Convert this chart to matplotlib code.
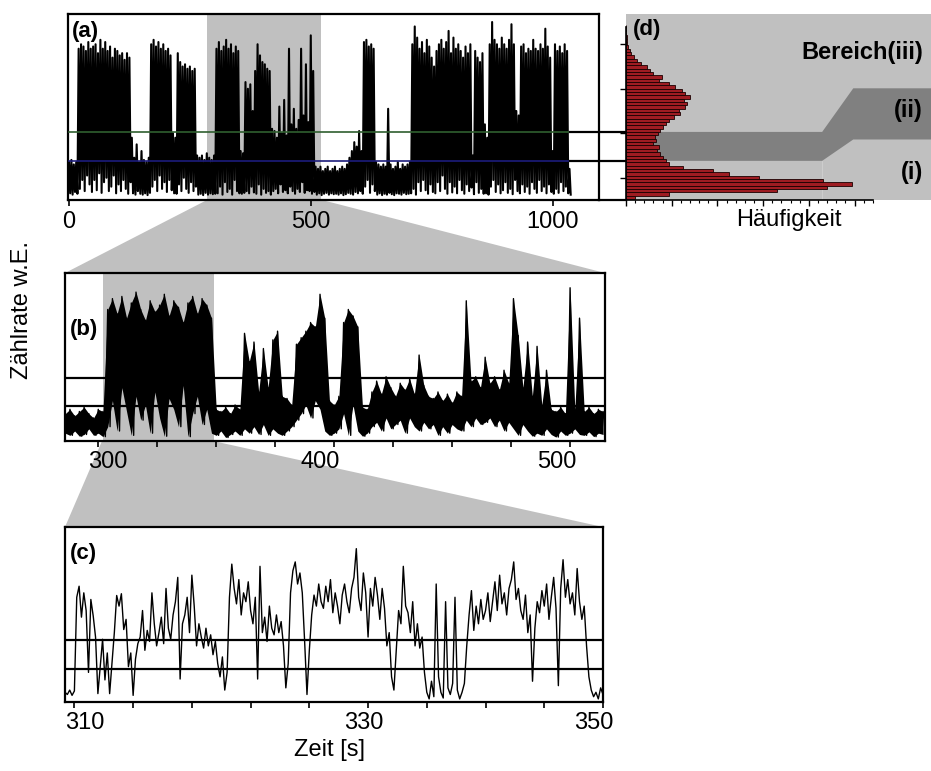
import numpy as np
import matplotlib
matplotlib.use('Agg')
import matplotlib.pyplot as plt
from matplotlib.patches import Polygon

plt.rcParams['font.family'] = ['Liberation Sans', 'DejaVu Sans']

# threshold levels (count rate, arb. units)
LOW_LEVEL = 3.8
HIGH_LEVEL = 10.3

# (a) full trace, upper / lower envelope every 5 s
A_T = np.arange(0, 1040, 5)
A_HI = [3.5, 4.0, 3.0, 3.5, 29.0, 30.0, 29.5, 28.5, 30.5, 29.0,
        29.5, 30.0, 28.0, 31.0, 29.0, 30.5, 28.5, 29.5, 27.0, 29.0,
        28.5, 27.5, 28.0, 26.5, 28.0, 27.0, 9.0, 4.5, 7.5, 3.5,
        6.0, 4.0, 3.5, 4.5, 30.0, 31.0, 29.5, 30.5, 29.0, 30.0,
        28.5, 29.0, 27.5, 10.0, 9.0, 28.0, 26.0, 25.0, 25.5, 24.5,
        25.0, 24.0, 24.5, 5.0, 4.5, 5.0, 4.0, 5.5, 4.5, 4.0,
        5.0, 29.0, 30.5, 28.5, 29.5, 31.0, 29.0, 30.0, 28.0, 29.5,
        28.5, 6.0, 5.5, 21.5, 20.0, 21.0, 15.0, 24.0, 30.0, 27.5,
        26.0, 25.5, 24.5, 24.0, 11.0, 10.5, 9.0, 16.0, 10.0, 17.5,
        9.5, 29.0, 12.0, 15.5, 11.0, 13.0, 29.0, 14.0, 25.5, 12.5,
        32.0, 24.0, 2.5, 2.0, 2.5, 1.5, 2.0, 2.5, 1.5, 2.0,
        2.5, 1.5, 2.0, 2.5, 2.0, 3.0, 4.5, 6.0, 8.0, 7.0,
        10.5, 6.0, 30.5, 31.0, 29.5, 30.0, 29.0, 3.5, 3.0, 2.5,
        3.0, 2.5, 15.5, 3.0, 2.0, 2.5, 3.5, 2.0, 3.0, 2.5,
        3.0, 3.5, 30.0, 34.0, 31.5, 29.0, 30.5, 28.0, 31.0, 29.5,
        27.0, 25.0, 28.5, 30.0, 31.0, 29.0, 30.5, 33.0, 28.0, 31.5,
        29.0, 30.0, 28.5, 27.0, 29.5, 28.0, 30.0, 5.0, 28.5, 27.0,
        26.0, 28.0, 12.0, 9.0, 30.0, 35.0, 31.0, 30.0, 29.0, 31.5,
        30.0, 29.0, 31.0, 34.5, 30.0, 15.0, 14.0, 29.5, 30.0, 28.0,
        29.0, 28.5, 31.0, 29.0, 28.5, 30.0, 29.0, 33.5, 29.5, 27.0,
        6.0, 30.0, 28.5, 29.5, 28.0, 30.0, 28.5, 2.0]
A_LO = [-3.5, -3.8, -3.2, -3.6, -2.5, -0.5, -3.0, 0.5, -1.5, -3.2,
        -0.5, -2.8, 1.0, -3.4, -1.0, 0.0, -3.0, -2.0, 0.5, -3.5,
        -1.5, -3.0, -0.5, -2.5, -3.6, -1.0, -3.5, -3.8, -3.0, -3.6,
        -3.8, -3.5, -3.9, -3.4, -2.0, -0.5, -3.0, 0.5, -2.5, -1.0,
        -3.2, -0.5, -2.8, -3.5, -3.6, -1.5, -3.0, 0.0, -2.5, -3.4,
        -1.0, -3.0, -2.0, -3.8, -3.6, -3.9, -3.4, -3.8, -3.5, -3.7,
        -3.6, -3.5, -2.0, -3.8, -1.0, -3.2, -2.5, -3.8, -0.5, -3.0,
        -3.5, -3.6, -3.4, -3.0, -3.5, -2.0, -3.3, -3.6, -1.5, -3.8,
        -2.5, -3.4, -3.0, -3.8, -3.0, -2.5, -3.5, -1.5, -3.2, -2.8,
        -3.5, -2.0, -3.0, -3.6, -2.5, -3.2, -1.0, -3.4, -2.8, -3.0,
        -3.6, -3.2, -3.8, -3.5, -3.9, -3.6, -3.4, -3.8, -3.5, -3.7,
        -3.6, -3.8, -3.5, -3.9, -3.7, -3.4, -3.6, -3.8, -3.2, -3.5,
        -3.0, -3.6, -2.0, -0.5, -3.4, -1.5, -3.0, -3.8, -3.5, -3.9,
        -3.6, -3.8, -3.4, -3.7, -3.9, -3.5, -3.6, -3.8, -3.4, -3.7,
        -3.6, -3.5, -2.5, -3.8, -1.0, -3.0, -0.5, -2.8, -3.6, -1.5,
        -3.2, -3.5, -1.0, -3.0, 0.5, -2.5, -3.6, -1.0, -3.3, -2.0,
        -3.5, -0.5, -2.8, -3.6, -1.5, -3.0, -2.2, -3.7, -1.0, -3.4,
        -2.5, -3.6, -3.5, -3.8, -2.0, -0.5, -3.2, -1.5, -3.5, -2.8,
        -1.0, -3.4, -2.5, -3.7, -0.5, -3.0, -3.5, -1.5, -3.2, -2.0,
        -3.6, -1.0, -2.5, -3.4, -0.5, -3.0, -2.0, -3.5, -1.5, -3.2,
        -3.6, -2.5, -3.4, -1.0, -3.0, -2.0, -3.5, -3.8]

# (b) 286-515 s, upper / lower envelope every 2 s
B_T = np.arange(286, 516, 2)
B_HI = [2.0, 3.0, 1.5, 2.5, 3.5, 2.0, 1.0, 3.0, 2.5, 26.0,
        28.5, 25.0, 29.0, 24.0, 27.5, 30.0, 26.0, 23.5, 28.0, 25.5,
        27.0, 29.5, 24.5, 28.0, 26.5, 23.0, 27.5, 29.0, 25.0, 28.5,
        27.0, 24.0, 3.0, 2.5, 3.5, 2.0, 4.0, 3.0, 20.5, 14.0,
        18.5, 7.0, 17.0, 8.0, 19.0, 21.0, 6.0, 5.5, 4.0, 18.0,
        19.5, 21.0, 23.0, 22.0, 29.5, 24.0, 5.0, 4.0, 6.0, 23.0,
        26.0, 24.5, 22.0, 3.5, 3.0, 7.0, 9.5, 6.5, 10.5, 8.0,
        6.0, 9.0, 7.5, 10.0, 6.5, 15.5, 8.5, 6.0, 5.5, 7.0,
        5.0, 6.5, 4.5, 7.0, 6.0, 28.0, 9.5, 10.5, 8.0, 15.0,
        9.0, 10.5, 7.5, 12.0, 9.0, 28.5, 20.0, 8.0, 18.5, 6.0,
        17.5, 4.0, 12.0, 3.0, 2.5, 3.5, 2.0, 31.0, 3.0, 24.0,
        2.5, 3.5, 2.0, 3.0, 2.5]
B_LO = [-2.5, -3.0, -2.0, -3.2, -2.8, -1.5, -3.0, -2.5, -3.3, -1.0,
        5.0, -2.0, 8.0, 2.5, -3.0, 6.0, 0.5, 4.0, -2.5, 7.0,
        1.0, -3.2, 5.5, 3.0, -1.0, 8.5, -3.3, 2.0, 6.0, -0.5,
        3.0, -2.5, -3.0, -2.0, -3.5, -2.8, -2.0, -3.0, -1.5, -2.5,
        -1.0, -2.8, -0.5, -3.0, -1.5, -2.5, -3.0, -2.0, -1.0, 0.5,
        2.0, 4.0, 1.0, 5.0, 3.0, -2.0, -3.0, -2.5, -1.5, 2.0,
        -3.0, 4.0, -2.0, -3.2, -2.5, -1.0, 0.0, -2.0, 1.0, -1.5,
        -0.5, 0.5, -2.5, 1.0, -1.0, -2.0, 0.0, -1.5, -0.5, -3.0,
        -1.0, -2.5, -0.5, -1.5, -2.0, 0.5, -1.0, 1.0, -0.5, 0.0,
        1.0, -1.0, 0.5, -2.0, 0.0, -1.5, -3.0, -0.5, -2.0, -3.2,
        -2.5, -3.0, -1.5, -2.8, -3.4, -2.0, -3.0, -2.5, -1.5, -2.8,
        -3.0, -2.2, -3.3, -2.5, -2.8]

# (c) 304.2-350 s, every 0.2 s
C_T = np.round(304.2 + 0.2 * np.arange(230), 1)
C_Y = [-1.5, -2.0, -1.0, -2.2, -1.2, 20.0, 22.5, 15.5, 21.0, 17.0,
       3.0, 19.5, 15.8, 11.0, -1.8, 4.3, 10.5, 1.3, 7.4, -1.8,
       5.0, 12.0, 20.4, 18.0, 20.8, 12.7, 15.0, 4.3, 7.4, -2.2,
       6.0, 9.5, 11.0, 17.0, 8.0, 12.5, 10.0, 21.0, 14.0, 9.0,
       12.0, 15.5, 9.5, 22.0, 13.0, 10.5, 16.0, 19.0, 24.5, 1.5,
       14.0, 16.0, 20.0, 12.0, 25.0, 18.0, 9.0, 14.0, 11.0, 8.5,
       13.0, 9.0, 11.5, 7.0, 10.0, 5.0, 2.0, 6.5, -1.0, 3.0,
       20.0, 27.5, 22.0, 18.5, 24.0, 16.0, 21.0, 19.0, 23.5, 17.0,
       14.0, 20.0, 1.5, 27.0, 12.0, 15.5, 10.0, 18.0, 13.0, 11.5,
       16.0, 12.0, 14.5, 9.0, -0.5, 5.0, 21.0, 26.0, 28.0, 23.0,
       25.5, 21.0, 10.0, -2.0, 8.0, 16.0, 20.5, 18.0, 23.0, 19.0,
       17.5, 22.5, 19.0, 24.0, 16.5, 21.0, 18.0, 14.0, 20.5, 23.0,
       19.0, 16.5, 22.0, 24.5, 31.0, 20.0, 17.0, 25.5, 21.0, 11.0,
       22.0, 18.0, 24.5, 20.5, 15.0, 22.0, 17.5, 9.0, 12.0, 2.0,
       -1.0, 8.0, 17.0, 14.0, 27.0, 18.0, 16.5, 12.0, 19.0, 9.0,
       14.0, 8.5, 11.0, 3.0, -1.5, -3.0, 1.0, -2.5, 23.0, 2.0,
       -1.5, -2.8, 19.0, -0.5, -2.0, 0.5, 20.0, -1.0, -3.0, -1.5,
       0.5, 9.0, 16.0, 21.5, 12.5, 18.0, 14.0, 19.5, 15.0, 17.0,
       21.0, 14.5, 19.0, 23.5, 17.0, 25.0, 18.5, 21.0, 16.0, 22.0,
       24.0, 28.0, 19.5, 22.0, 17.0, 15.0, 20.5, 12.0, 16.0, 1.0,
       13.0, 19.0, 16.5, 21.5, 18.0, 23.0, 15.0, 20.0, 24.5, 17.5,
       0.0, 22.0, 28.5, 20.0, 24.0, 18.5, 21.0, 16.0, 26.5, 19.0,
       15.0, 18.0, 9.0, 2.0, -1.0, -2.5, -1.5, -3.0, -0.5, -2.0]

# (d) histogram of count rate, bin centres and counts
D_U = np.arange(52) * 0.75 - 4.375
D_N = [20, 95, 330, 440, 495, 430, 290, 225, 190, 125,
       95, 88, 82, 74, 68, 72, 60, 66, 64, 70,
       74, 80, 88, 95, 104, 118, 116, 130, 133, 126,
       139, 130, 122, 108, 95, 72, 78, 60, 52, 45,
       32, 23, 17, 12, 8, 5, 3, 2, 2, 1,
       1, 1]

W, H = 931, 771
fig = plt.figure(figsize=(W / 100, H / 100), dpi=100)


def fx(px):
    return px / W


def fy(py):
    return 1 - py / H


def zigzag(t, hi, lo, half):
    x = np.empty(2 * len(t))
    y = np.empty(2 * len(t))
    x[0::2] = t
    x[1::2] = np.asarray(t) + half
    y[0::2] = hi
    y[1::2] = lo
    return x, y


GRAY = '#c0c0c0'
FS = 17

# gray connectors between the panels
fig.add_artist(Polygon([(fx(207), fy(200)), (fx(322), fy(200)), (fx(605), fy(273)), (fx(65), fy(273))],
                       closed=True, transform=fig.transFigure, color=GRAY, lw=0, zorder=-1))
fig.add_artist(Polygon([(fx(102), fy(441)), (fx(213), fy(441)), (fx(603), fy(527)), (fx(65), fy(527))],
                       closed=True, transform=fig.transFigure, color=GRAY, lw=0, zorder=-1))

# ---- (a)
ax_a = fig.add_axes([fx(68), fy(200), (599 - 68) / W, (200 - 14) / H])
ax_a.set_xlim(-2, 1096)
ax_a.set_ylim(-5, 36.8)
ax_a.axvspan(286, 522, color=GRAY, lw=0, zorder=0)
x, y = zigzag(A_T, A_HI, A_LO, 2.5)
ax_a.plot(x, y, color='black', lw=1.5, zorder=2)
ax_a.plot([0, 1035], [HIGH_LEVEL] * 2, color='#2f5f2f', lw=1.2, zorder=3)
ax_a.plot([0, 1035], [LOW_LEVEL] * 2, color='#1c1c7c', lw=1.2, zorder=3)
for lev in (HIGH_LEVEL, LOW_LEVEL):
    ax_a.plot([1035, 1152], [lev, lev], color='black', lw=1.6, clip_on=False, zorder=3)
ax_a.plot([1096, 1152], [-5, -5], color='black', lw=1.6, clip_on=False)
ax_a.set_xticks([0, 500, 1000])
ax_a.set_yticks([])
ax_a.tick_params(axis='x', direction='out', length=4, width=1.2, labelsize=FS, pad=4)

# ---- (b)
ax_b = fig.add_axes([fx(65), fy(441), (605 - 65) / W, (441 - 273) / H])
ax_b.set_xlim(285.9, 514.8)
ax_b.set_ylim(-4.3, 34.4)
ax_b.axvspan(302, 349, color=GRAY, lw=0, zorder=0)
ax_b.fill_between(B_T, B_LO, B_HI, color='black', lw=0, zorder=1)
x, y = zigzag(B_T, B_HI, B_LO, 1.0)
ax_b.plot(x, y, color='black', lw=1.0, zorder=2)
for lev in (HIGH_LEVEL, LOW_LEVEL):
    ax_b.axhline(lev, color='black', lw=1.6, zorder=3)
ax_b.set_xticks([304.1, 393.9, 494.4])
ax_b.set_xticklabels(['300', '400', '500'])
ax_b.set_xticks(np.arange(300, 515, 25), minor=True)
ax_b.set_yticks([])
ax_b.tick_params(axis='x', which='major', length=0, labelsize=FS, pad=7)
ax_b.tick_params(axis='x', which='minor', direction='out', length=4, width=1.2)

# ---- (c)
ax_c = fig.add_axes([fx(65), fy(702), (603 - 65) / W, (702 - 527) / H])
ax_c.set_xlim(304.2, 350)
ax_c.set_ylim(-3.7, 35.9)
ax_c.plot(C_T, C_Y, color='black', lw=1.0, zorder=2)
for lev in (HIGH_LEVEL, LOW_LEVEL):
    ax_c.axhline(lev, color='black', lw=1.6, zorder=3)
ax_c.set_xticks([305.9, 329.6, 349.2])
ax_c.set_xticklabels(['310', '330', '350'])
ax_c.set_xticks(np.arange(305, 350.1, 5), minor=True)
ax_c.set_yticks([])
ax_c.tick_params(axis='x', which='major', length=0, labelsize=FS, pad=7)
ax_c.tick_params(axis='x', which='minor', direction='out', length=4, width=1.2)

for ax in (ax_a, ax_b, ax_c):
    for s in ax.spines.values():
        s.set_linewidth(1.6)

# ---- (d)
ax_d = fig.add_axes([fx(626), fy(200), (931 - 626) / W, (200 - 14) / H])
ax_d.set_xlim(0, 667)
ax_d.set_ylim(-5, 36.8)
ax_d.set_facecolor(GRAY)
ax_d.fill([0, 429, 497, 667, 667, 497, 429, 0],
          [LOW_LEVEL, LOW_LEVEL, 8.6, 8.6, 20.1, 20.1, HIGH_LEVEL, HIGH_LEVEL],
          color='#808080', lw=0, zorder=0)
ax_d.plot([429, 429], [-5, LOW_LEVEL], color='#d0d0d0', lw=0.6, zorder=0)
ax_d.barh(D_U, D_N, height=0.75, color='#9e1c22', edgecolor='#1a0000', lw=0.6, zorder=2)
for s in ('top', 'right'):
    ax_d.spines[s].set_visible(False)
ax_d.spines['left'].set_bounds(-5, 33.9)
ax_d.spines['bottom'].set_bounds(0, 540)
ax_d.spines['left'].set_linewidth(1.2)
ax_d.spines['bottom'].set_linewidth(1.2)
ax_d.set_xticks(np.arange(0, 501, 100))
ax_d.set_xticks(np.arange(0, 541, 20), minor=True)
ax_d.set_yticks([0, 10, 20, 30])
ax_d.set_xticklabels([])
ax_d.set_yticklabels([])
ax_d.tick_params(which='major', direction='out', length=4, width=1.0)
ax_d.tick_params(which='minor', direction='out', length=2.5, width=0.8)

# texts
fig.text(fx(72), fy(32), '(a)', fontsize=16, fontweight='bold', va='center')
fig.text(fx(70), fy(330), '(b)', fontsize=16, fontweight='bold', va='center')
fig.text(fx(70), fy(553), '(c)', fontsize=16, fontweight='bold', va='center')
fig.text(fx(633), fy(30), '(d)', fontsize=16, fontweight='bold', va='center')
fig.text(fx(923), fy(53), 'Bereich(iii)', fontsize=FS, fontweight='bold', va='center', ha='right')
fig.text(fx(923), fy(110), '(ii)', fontsize=FS, fontweight='bold', va='center', ha='right')
fig.text(fx(923), fy(172), '(i)', fontsize=FS, fontweight='bold', va='center', ha='right')
fig.text(fx(789), fy(220), 'Häufigkeit', fontsize=FS, va='center', ha='center')
fig.text(fx(330), fy(750), 'Zeit [s]', fontsize=FS, va='center', ha='center')
fig.text(fx(22), fy(310), 'Zählrate w.E.', fontsize=FS, va='center', ha='center', rotation=90)

fig.savefig('out.png', dpi=100)
